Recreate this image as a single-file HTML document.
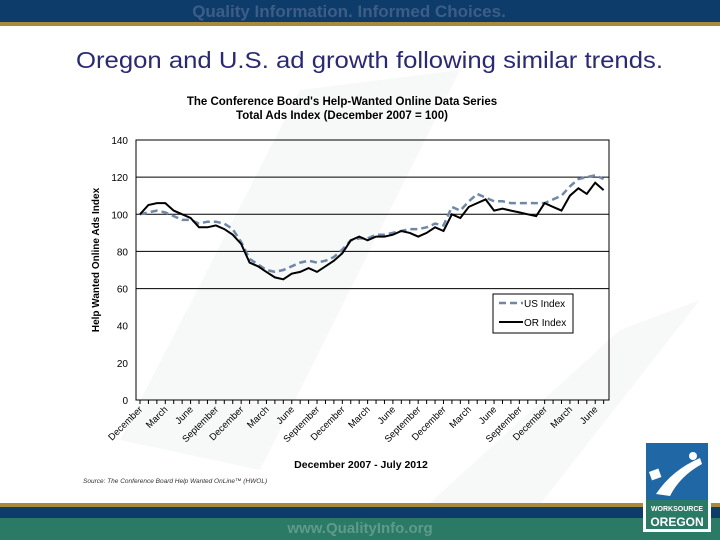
<!DOCTYPE html>
<html><head><meta charset="utf-8"><style>
body{margin:0;width:720px;height:540px;overflow:hidden;background:#fff;font-family:"Liberation Sans",sans-serif;}
</style></head><body>
<svg width="720" height="540" viewBox="0 0 720 540" xmlns="http://www.w3.org/2000/svg">
<g>
<path d="M120 440 L300 90 L460 70 L260 470 Z" fill="#f7f8f8"/>
<path d="M400 530 L620 330 L700 300 L520 530 Z" fill="#f7f8f8"/>
</g>
<g>
<rect x="0" y="0" width="720" height="23" fill="#0d3c6a"/>
<rect x="0" y="22" width="720" height="4" fill="#a88a3e"/>
<text x="349" y="17" text-anchor="middle" font-size="17" font-weight="bold" fill="#3e5d86">Quality Information. Informed Choices.</text>
</g>
<text x="76" y="68" font-size="23" fill="#2a2a72" textLength="587" lengthAdjust="spacingAndGlyphs">Oregon and U.S. ad growth following similar trends.</text>
<text x="342" y="105" text-anchor="middle" font-size="11.5" font-weight="bold" fill="#000">The Conference Board's Help-Wanted Online Data Series</text>
<text x="342" y="119" text-anchor="middle" font-size="11.5" font-weight="bold" fill="#000">Total Ads Index (December 2007 = 100)</text>
<text transform="translate(99,260) rotate(-90)" text-anchor="middle" font-size="10" font-weight="bold" fill="#000">Help Wanted Online Ads Index</text>
<g id="chart"></g>
<text x="361" y="468" text-anchor="middle" font-size="10.5" font-weight="bold" fill="#000">December 2007 - July 2012</text>
<text x="83" y="483" font-size="6.5" font-style="italic" fill="#333">Source: The Conference Board Help Wanted OnLine™ (HWOL)</text>
<g>
<rect x="0" y="503" width="720" height="5" fill="#a88a3e"/>
<rect x="0" y="507" width="720" height="11" fill="#0d3c6a"/>
<rect x="0" y="518" width="720" height="22" fill="#2a7a66"/>
<text x="360" y="533" text-anchor="middle" font-size="15" font-weight="bold" fill="#5f9a8d">www.QualityInfo.org</text>
</g>
<g>
<rect x="643" y="440" width="68" height="92" fill="#fff"/>
<rect x="646" y="443" width="62" height="57" fill="#2067a6"/>
<path d="M656 494 Q672 470 700 458 L702 464 Q680 476 670 496 Z" fill="#fff"/>
<circle cx="693" cy="456" r="4" fill="#fff"/>
<rect x="650" y="470" width="10" height="9" fill="#fff" transform="rotate(-20 655 474)"/>
<rect x="646" y="500" width="62" height="29" fill="#2a7a66"/>
<text x="677" y="511" text-anchor="middle" font-size="7" font-weight="bold" fill="#fff">WORKSOURCE</text>
<text x="677" y="526" text-anchor="middle" font-size="12" font-weight="bold" fill="#fff">OREGON</text>
</g>
</svg>
<script>
const categories=["Dec07","Jan08","Feb08","Mar08","Apr08","May08","Jun08","Jul08","Aug08","Sep08","Oct08","Nov08","Dec08","Jan09","Feb09","Mar09","Apr09","May09","Jun09","Jul09","Aug09","Sep09","Oct09","Nov09","Dec09","Jan10","Feb10","Mar10","Apr10","May10","Jun10","Jul10","Aug10","Sep10","Oct10","Nov10","Dec10","Jan11","Feb11","Mar11","Apr11","May11","Jun11","Jul11","Aug11","Sep11","Oct11","Nov11","Dec11","Jan12","Feb12","Mar12","Apr12","May12","Jun12","Jul12"];
const orIndex=[100,105,106,106,102,100,98,93,93,94,92,89,84,74,72,69,66,65,68,69,71,69,72,75,79,86,88,86,88,88,89,91,90,88,90,93,91,100,98,104,106,108,102,103,102,101,100,99,106,104,102,110,114,111,117,113];
const usIndex=[100,101,102,101,99,97,97,95,96,96,95,92,85,76,73,70,69,70,72,74,75,74,75,77,81,86,87,87,89,89,90,91,92,92,93,95,94,104,102,107,111,109,107,107,106,106,106,106,106,108,110,115,119,120,121,119];
const yTicks=[0,20,40,60,80,100,120,140];
const gridVals=[60,80,100,120,140];
const xLabels=["December","March","June","September","December","March","June","September","December","March","June","September","December","March","June","September","December","March","June"];
const NS="http://www.w3.org/2000/svg";
const L=136,R=609,T=140,B=400,X0=140,DX=8.43;
function xs(i){return X0+i*DX;}
function ys(v){return B-(v/140)*(B-T);}
const g=document.getElementById('chart');


function mk(tag,attrs,parent){const e=document.createElementNS(NS,tag);for(const k in attrs)e.setAttribute(k,attrs[k]);(parent||g).appendChild(e);return e;}
gridVals.forEach(v=>{
 const l=mk('line',{x1:L,x2:R,y1:ys(v),y2:ys(v),stroke:'#000','stroke-width':1});
 
 
});
const frame=mk('rect',{x:L,y:T,width:R-L,height:B-T,fill:'none',stroke:'#000','stroke-width':1});


yTicks.forEach(v=>{
 const t=mk('text',{x:L-8,y:ys(v)+4,'text-anchor':'end','font-size':10,fill:'#000'});
 t.textContent=v;
 
 
});
for(let i=0;i<categories.length;i++){
 const tk=mk('line',{x1:xs(i),x2:xs(i),y1:B,y2:B+4,stroke:'#000','stroke-width':1});
 
 
}
xLabels.forEach((s,j)=>{
 const x=xs(j*3)+3,y=B+10;
 const t=mk('text',{x:x,y:y,'text-anchor':'end','font-size':9.5,fill:'#000',transform:`rotate(-45 ${x} ${y})`});
 t.textContent=s;
 
 
});
function pts(a){return a.map((v,i)=>xs(i).toFixed(1)+','+ys(v).toFixed(1)).join(' ');}
const us=mk('polyline',{points:pts(usIndex),fill:'none',stroke:'#7088a8','stroke-width':2.5,'stroke-dasharray':'7,4'});


const or=mk('polyline',{points:pts(orIndex),fill:'none',stroke:'#000','stroke-width':2});


const lg=mk('g',{});


mk('rect',{x:493,y:294,width:80,height:39,fill:'#fff',stroke:'#000','stroke-width':1},lg);
mk('line',{x1:499,x2:523,y1:303,y2:303,stroke:'#7088a8','stroke-width':2.5,'stroke-dasharray':'7,4'},lg);
mk('line',{x1:499,x2:523,y1:322,y2:322,stroke:'#000','stroke-width':2},lg);
const t1=mk('text',{x:524,y:307,'font-size':10,fill:'#000'},lg);t1.textContent='US Index';


const t2=mk('text',{x:524,y:326,'font-size':10,fill:'#000'},lg);t2.textContent='OR Index';


</script>
</body></html>
